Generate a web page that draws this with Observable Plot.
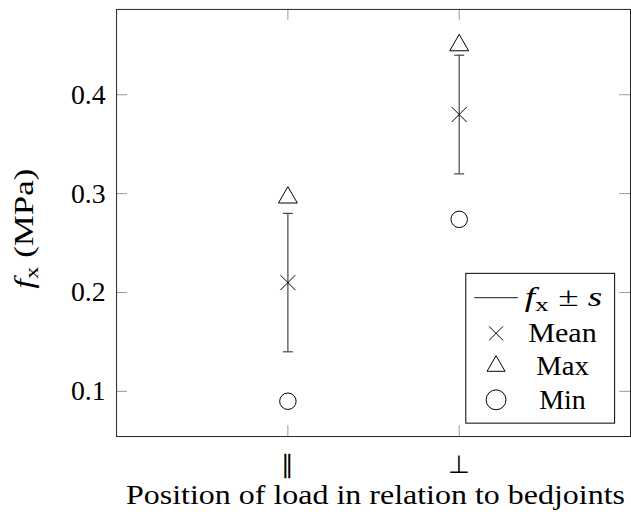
<!DOCTYPE html>
<html><head><meta charset="utf-8">
<script src="https://cdn.jsdelivr.net/npm/d3@7"></script>
<script src="https://cdn.jsdelivr.net/npm/@observablehq/plot@0.6"></script>
<style>body{margin:0;overflow:hidden;background:#fff} #chart{width:631px;height:518px;overflow:hidden}</style>
</head><body><div id="chart"></div>
<script>
const categories = ["∥", "⊥"];
const positions = [1, 2];
const means = [0.21, 0.38];
const stdLow = [0.14, 0.32];
const stdHigh = [0.28, 0.44];
const maxima = [0.296, 0.45];
const minima = [0.09, 0.274];
const yTicks = [0.1, 0.2, 0.3, 0.4];
const legendLabels = ["Mean", "Max", "Min"];

const rows = categories.map((c, i) => ({cat: c, x: positions[i], mean: means[i], lo: stdLow[i], hi: stdHigh[i], max: maxima[i], min: minima[i]}));

const rad = size => Math.sqrt(size / Math.PI);
const capSymbol = {draw(ctx, size) { const r = rad(size); ctx.moveTo(-r, 0); ctx.lineTo(r, 0); }};
const timesSymbol = {draw(ctx, size) { const r = rad(size); ctx.moveTo(-r, -r); ctx.lineTo(r, r); ctx.moveTo(-r, r); ctx.lineTo(r, -r); }};
const triSymbol = {draw(ctx, size) { const r = rad(size); const h = r * Math.sqrt(3) / 2; ctx.moveTo(0, -r); ctx.lineTo(h, r / 2); ctx.lineTo(-h, r / 2); ctx.closePath(); }};

const FONT = "'Times New Roman', Times, 'Liberation Serif', Tinos, serif";

const plot = Plot.plot({
  width: 636, height: 518,
  marginLeft: 117, marginRight: 1, marginTop: 9, marginBottom: 78.5,
  style: {fontFamily: FONT, fontSize: "28px", color: "black", background: "white"},
  x: {domain: [0, 3]},
  y: {domain: [0.0543, 0.4863]},
  marks: [
    Plot.tickY(yTicks, {y: d => d, insetRight: 507, stroke: "#999"}),
    Plot.tickY(yTicks, {y: d => d, insetLeft: 507, stroke: "#999"}),
    Plot.tickX(positions, {x: d => d, insetTop: 419.5, stroke: "#999"}),
    Plot.tickX(positions, {x: d => d, insetBottom: 419.5, stroke: "#999"}),
    Plot.axisY(yTicks, {tickSize: 0, tickPadding: 11, tickFormat: d3.format(".1f"), label: null}),
    Plot.axisX(positions, {tickSize: 0, tickPadding: 19, fontSize: 25, tickFormat: d => categories[positions.indexOf(d)], label: null}),
    Plot.ruleX(rows, {x: "x", y1: "lo", y2: "hi", stroke: "#444", strokeWidth: 1.2}),
    Plot.dot(rows, {x: "x", y: "lo", symbol: capSymbol, r: 5, stroke: "#444", strokeWidth: 1.2}),
    Plot.dot(rows, {x: "x", y: "hi", symbol: capSymbol, r: 5, stroke: "#444", strokeWidth: 1.2}),
    Plot.dot(rows, {x: "x", y: "mean", symbol: timesSymbol, r: 7.5, stroke: "black", strokeWidth: 1}),
    Plot.dot(rows, {x: "x", y: "max", symbol: triSymbol, r: 11, stroke: "black", strokeWidth: 1}),
    Plot.dot(rows, {x: "x", y: "min", symbol: "circle", r: 8.3, stroke: "black", strokeWidth: 1}),
    Plot.frame({stroke: "#222", strokeWidth: 1})
  ]
});
document.getElementById("chart").appendChild(plot);

const svg = d3.select(plot);
const fit = (sel, len) => sel.attr("textLength", len).attr("lengthAdjust", "spacingAndGlyphs");

// y label
const yl = svg.append("text").attr("transform", "translate(33,291) rotate(-90)")
  .attr("text-anchor", "start")
  .style("font-family", FONT).style("font-size", "28px").attr("fill", "black");
yl.append("tspan").attr("font-style", "italic").text("f");
yl.append("tspan").attr("font-size", "20px").attr("dy", "5").text("x");
yl.append("tspan").attr("dy", "-5").text(" (MPa)");
fit(yl, 121);

// x label
fit(svg.append("text").attr("x", 127).attr("y", 508).attr("text-anchor", "start")
  .style("font-family", FONT).style("font-size", "27px").attr("fill", "black")
  .text("Position of load in relation to bedjoints"), 503);

// legend
const lg = svg.append("g").style("font-family", FONT).style("font-size", "27px");
lg.append("rect").attr("x", 469.5).attr("y", 275.5).attr("width", 150).attr("height", 151).attr("fill", "white").attr("stroke", "black");
lg.append("line").attr("x1", 478).attr("x2", 522).attr("y1", 300).attr("y2", 300).attr("stroke", "#444").attr("stroke-width", 1.2);
const ft = lg.append("text").attr("x", 529).attr("y", 308).attr("text-anchor", "start").attr("fill", "black");
ft.append("tspan").attr("font-style", "italic").text("f");
ft.append("tspan").attr("font-size", "20px").attr("dy", "5").text("x");
ft.append("tspan").attr("dy", "-5").text(" ± ");
ft.append("tspan").attr("font-style", "italic").text("s");
fit(ft, 78);
const legSyms = [[timesSymbol, 7], [triSymbol, 10.5], [d3.symbolCircle, 10]];
const legY = [336, 369, 403];
const legW = [69, 53, 47];
legendLabels.forEach((lab, i) => {
  const [sym, r] = legSyms[i];
  lg.append("path").attr("d", d3.symbol(sym, Math.PI * r * r)()).attr("transform", `translate(500,${legY[i]})`)
    .attr("fill", "none").attr("stroke", "black");
  fit(lg.append("text").attr("x", 567 - legW[i] / 2).attr("y", legY[i] + 9).attr("text-anchor", "start")
    .attr("fill", "black").text(lab), legW[i]);
});
</script>
</body></html>
